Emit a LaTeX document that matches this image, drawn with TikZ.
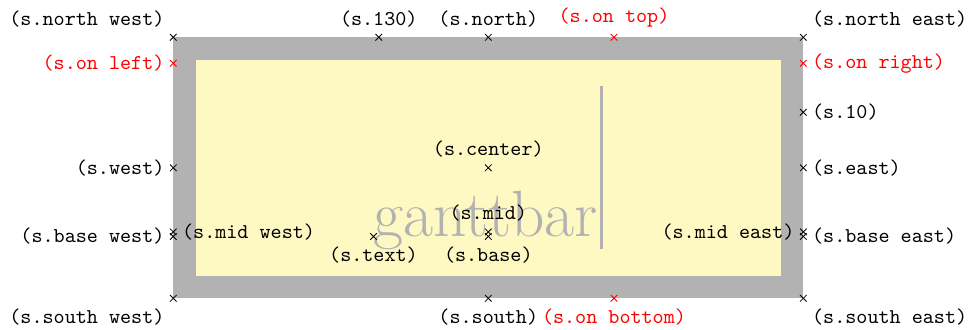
\documentclass[tikz,border=0pt]{standalone}
\usepackage{tikz}
\definecolor{barfill}{RGB}{254,249,195}

\begin{document}
\begin{tikzpicture}[
  every node/.style={font=\ttfamily, inner xsep=4pt, inner ysep=4.8pt},
  barshape/.style={draw=black!30, fill=barfill, line width=0.375cm,
    minimum width=10.125cm, minimum height=3.975cm, inner sep=0pt,
    font=\rmfamily\Large, text=black!30},
  extra/.style={red},
  every mark/.append style={mark size=2.2pt}
]
\useasboundingbox (-8.138,-2.687) rectangle (8.045,2.797);
\node[barshape] (s) at (0,0) {\fontsize{31}{37}\selectfont ganttbar\kern1pt\rule[-5.9pt]{1.4pt}{77.3pt}};

\coordinate (ontop) at ([xshift=2.095cm]s.north);
\coordinate (onbottom) at ([xshift=2.095cm]s.south);
\coordinate (onleft) at ([yshift=-0.433cm]s.north west);
\coordinate (onright) at ([yshift=-0.433cm]s.north east);

\foreach \anc/\pos in {north west/above left, 130/above, north/above,
    north east/above right, 10/right, west/left, center/above, east/right,
    mid west/right, base west/left, mid/above, base/below, text/below,
    mid east/left, base east/right, south west/below left, south/below,
    south east/below right}
  \draw[shift=(s.\anc)] plot[mark=x, mark size=2.2pt] coordinates {(0,0)} node[\pos] {(s.\anc)};

\foreach \crd/\txt/\pos in {ontop/on top/above, onbottom/on bottom/below,
    onleft/on left/left, onright/on right/right}
  \draw[extra, shift=(\crd)] plot[mark=x, mark size=2.2pt] coordinates {(0,0)} node[\pos] {(s.\txt)};
\end{tikzpicture}
\end{document}
